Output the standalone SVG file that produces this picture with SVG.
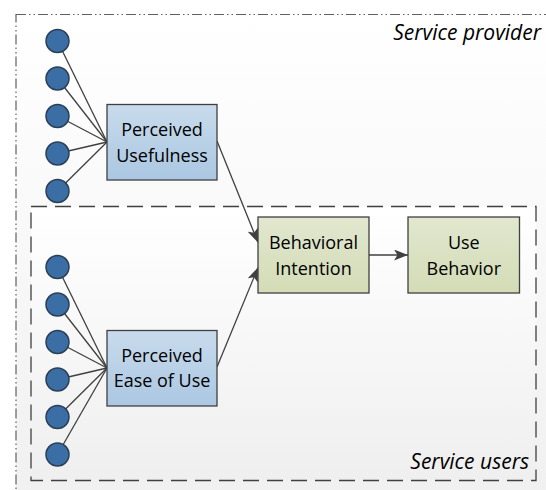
<svg xmlns="http://www.w3.org/2000/svg" width="546" height="490" viewBox="0 0 546 490">
  <defs>
    <linearGradient id="bgOuter" x1="0" y1="0" x2="0" y2="1">
      <stop offset="0" stop-color="#ffffff"/>
      <stop offset="1" stop-color="#f0f0f0"/>
    </linearGradient>
    <linearGradient id="bgInner" x1="0" y1="0" x2="0" y2="1">
      <stop offset="0" stop-color="#ffffff"/>
      <stop offset="1" stop-color="#efefef"/>
    </linearGradient>
    <linearGradient id="blueFill" x1="0" y1="0" x2="0" y2="1">
      <stop offset="0" stop-color="#c8dbec"/>
      <stop offset="1" stop-color="#abc7e2"/>
    </linearGradient>
    <linearGradient id="greenFill" x1="0" y1="0" x2="0" y2="1">
      <stop offset="0" stop-color="#e2e7cf"/>
      <stop offset="1" stop-color="#d3dcb6"/>
    </linearGradient>
    <marker id="arrow" viewBox="0 0 14 11" refX="14" refY="5.5" markerWidth="14" markerHeight="11" markerUnits="userSpaceOnUse" orient="auto">
      <path d="M0,0 L14,5.5 L0,11 L3.5,5.5 Z" fill="#404040"/>
    </marker>
  </defs>
  <style>
    .provider { fill: url(#bgOuter); stroke: #606060; stroke-width: 1.2; stroke-dasharray: 10 3 1.5 3 1.5 3; }
    .users { fill: url(#bgInner); stroke: #404040; stroke-width: 1.3; stroke-dasharray: 16 8; }
    .item { fill: #3b6ea5; stroke: #2b3f55; stroke-width: 1.5; }
    .construct { fill: url(#blueFill); stroke: #404040; stroke-width: 1.3; }
    .outcome { fill: url(#greenFill); stroke: #404040; stroke-width: 1.3; }
    .label { font-family: "Open Sans", "Noto Sans", sans-serif; font-size: 18px; fill: #000; text-anchor: middle; }
    .area { font-family: "Open Sans", "Noto Sans", sans-serif; font-size: 21px; font-style: italic; fill: #000; text-anchor: end; }
    .link { stroke: #404040; stroke-width: 1.3; fill: none; }
  </style>

  <!-- scope boundaries -->
  <g id="service-provider">
    <rect class="provider" x="16" y="14.5" width="560" height="500"/>
    <text class="area" x="541" y="39.5">Service provider</text>
  </g>
  <g id="service-users">
    <rect class="users" x="31" y="206.5" width="505" height="274"/>
    <text class="area" x="529" y="468.5">Service users</text>
  </g>

  <!-- connectors -->
  <g id="connectors">
    <line class="link" x1="57.5" y1="41" x2="107" y2="142"/>
    <line class="link" x1="57.5" y1="78.5" x2="107" y2="142"/>
    <line class="link" x1="57.5" y1="116" x2="107" y2="142"/>
    <line class="link" x1="57.5" y1="153.5" x2="107" y2="142"/>
    <line class="link" x1="57.5" y1="191" x2="107" y2="142"/>

    <line class="link" x1="57.5" y1="267" x2="107" y2="368"/>
    <line class="link" x1="57.5" y1="304.5" x2="107" y2="368"/>
    <line class="link" x1="57.5" y1="342" x2="107" y2="368"/>
    <line class="link" x1="57.5" y1="379.5" x2="107" y2="368"/>
    <line class="link" x1="57.5" y1="417" x2="107" y2="368"/>
    <line class="link" x1="57.5" y1="454.5" x2="107" y2="368"/>

    <line class="link" x1="217" y1="141" x2="258" y2="242.5" marker-end="url(#arrow)"/>
    <line class="link" x1="217" y1="367" x2="258" y2="267.5" marker-end="url(#arrow)"/>
    <line class="link" x1="369" y1="255" x2="408" y2="255" marker-end="url(#arrow)"/>
  </g>

  <!-- indicator items -->
  <g id="pu-items">
    <circle class="item" cx="57.5" cy="41" r="11.5"/>
    <circle class="item" cx="57.5" cy="78.5" r="11.5"/>
    <circle class="item" cx="57.5" cy="116" r="11.5"/>
    <circle class="item" cx="57.5" cy="153.5" r="11.5"/>
    <circle class="item" cx="57.5" cy="191" r="11.5"/>
  </g>
  <g id="peu-items">
    <circle class="item" cx="57.5" cy="267" r="11.5"/>
    <circle class="item" cx="57.5" cy="304.5" r="11.5"/>
    <circle class="item" cx="57.5" cy="342" r="11.5"/>
    <circle class="item" cx="57.5" cy="379.5" r="11.5"/>
    <circle class="item" cx="57.5" cy="417" r="11.5"/>
    <circle class="item" cx="57.5" cy="454.5" r="11.5"/>
  </g>

  <!-- constructs -->
  <g id="perceived-usefulness">
    <rect class="construct" x="107" y="104.5" width="110" height="75.5"/>
    <text class="label" x="162" y="136">Perceived</text>
    <text class="label" x="162" y="161.5">Usefulness</text>
  </g>
  <g id="perceived-ease-of-use">
    <rect class="construct" x="107" y="330.5" width="110" height="75.5"/>
    <text class="label" x="162" y="361.5">Perceived</text>
    <text class="label" x="162" y="387">Ease of Use</text>
  </g>
  <g id="behavioral-intention">
    <rect class="outcome" x="258" y="217" width="111" height="76"/>
    <text class="label" x="313.5" y="249">Behavioral</text>
    <text class="label" x="313.5" y="274.5">Intention</text>
  </g>
  <g id="use-behavior">
    <rect class="outcome" x="408" y="217" width="111.5" height="76"/>
    <text class="label" x="463.8" y="249">Use</text>
    <text class="label" x="463.8" y="274.5">Behavior</text>
  </g>
</svg>
